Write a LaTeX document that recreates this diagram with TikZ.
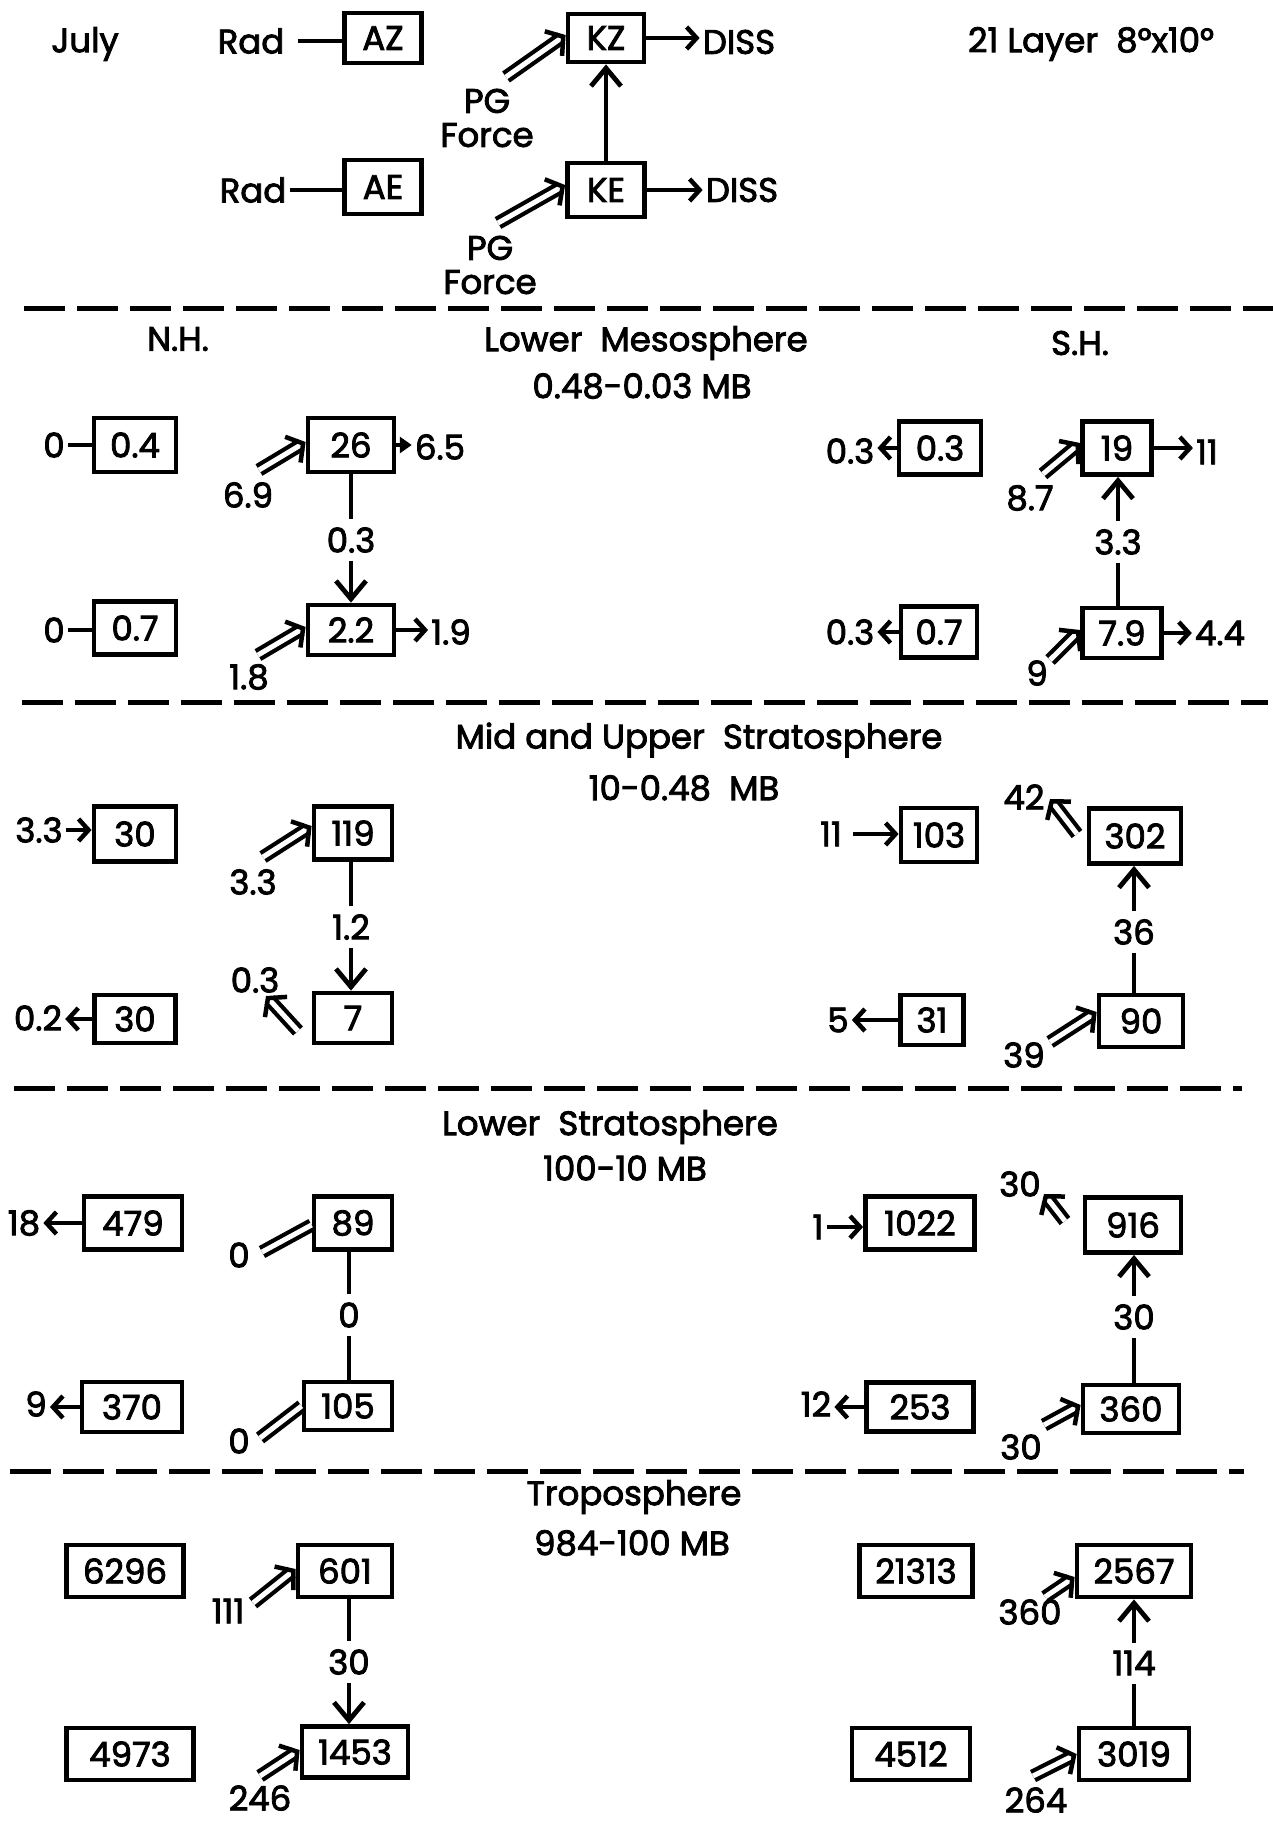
\documentclass[tikz,border=0pt]{standalone}
\usepackage{fontspec}
\setmainfont{Poppins}[FakeBold=2.5]
\usetikzlibrary{arrows.meta}
\begin{document}
\begin{tikzpicture}[x=1pt,y=-1pt,
  every node/.style={font=\fontsize{34}{40}\selectfont},
  lbl/.style={inner sep=3pt},
  vl/.style={inner sep=8pt},
  box/.style={draw,line width=4.8pt,inner sep=0pt,minimum height=52pt},
  ln/.style={line width=4.8pt},
  harr/.style={line width=4.5pt,-{Straight Barb[length=10pt,width=22pt]}},
  varr/.style={line width=4.8pt,-{Straight Barb[length=18pt,width=30pt]}},
  tarr/.style={line width=4.5pt,-{Triangle[length=12pt,width=16pt]}},
  dbl/.style={double,line width=4.2pt,double distance=5pt,-{Straight Barb[length=12pt,width=30pt,line width=4.5pt]}},
  dblline/.style={double,line width=4.2pt,double distance=5pt},
  sep/.style={line width=5pt,dash pattern=on 41pt off 12pt}
]
\fill[white] (0,0) rectangle (1273,1834);
\useasboundingbox (0,0) rectangle (1273,1834);

% ---------------- top legend ----------------
\node[lbl] (july) at (85,44) {July};
\node[lbl] (radA) at (251,41) {Rad};
\node[box,minimum width=77pt,minimum height=50pt] (AZ) at (383,38) {AZ};
\draw[ln,shorten <=10pt] (radA.east) -- (radA.east -| AZ.west);
\node[lbl] (radB) at (253,190) {Rad};
\node[box,minimum width=77pt,minimum height=54pt] (AE) at (383,187) {AE};
\draw[ln] (radB.east) -- (radB.east -| AE.west);
\node[box,minimum width=76pt,minimum height=48pt] (KZ) at (606,38) {KZ};
\node[box,minimum width=77pt,minimum height=54pt] (KE) at (606,190) {KE};
\draw[varr] (KE.north) -- (KZ.south);
\node[lbl] (dissA) at (739,42) {DISS};
\node[lbl] (dissB) at (742,190) {DISS};
\draw[harr] (KZ.east) -- (KZ.east -| dissA.west);
\draw[harr] (KE.east) -- (KE.east -| dissB.west);
\node[lbl,align=center,font=\fontsize{34}{34}\selectfont] (pgA) at (487,118) {PG\\Force};
\node[lbl,align=center,font=\fontsize{34}{34}\selectfont] (pgB) at (490,265) {PG\\Force};
\coordinate (pgAt) at (506,77);
\coordinate (pgBt) at (498,223);
\draw[dbl] (pgAt) -- ([yshift=3pt]KZ.west);
\draw[dbl] (pgBt) -- ([yshift=5pt]KE.west);
\node[lbl] (layer) at (1091,44) {21 Layer\ \ 8°x10°};

\draw[sep] (24,308) -- (1273,308);

% ---------------- Lower Mesosphere ----------------
\node[lbl] (nh) at (178,339) {N.H.};
\node[lbl] (sh) at (1080,343) {S.H.};
\node[lbl] (t1a) at (646,343) {Lower\ \ Mesosphere};
\node[lbl] (t1b) at (642,386) {0.48-0.03 MB};

\node[lbl] (z1) at (54,445) {0};
\node[box,minimum width=82pt,minimum height=54pt] (b04) at (135,445) {0.4};
\draw[ln] (z1.east) -- (z1.east -| b04.west);
\node[lbl] (z2) at (54,630) {0};
\node[box,minimum width=82pt,minimum height=53pt] (b07) at (135,628) {0.7};
\draw[ln] (z2.east) -- (z2.east -| b07.west);

\node[box,minimum width=86pt,minimum height=54pt] (b26) at (351,445) {26};
\node[lbl] (l69) at (248,495) {6.9};
\coordinate (c69) at (259,470);
\draw[dbl] (c69) -- ([yshift=3pt]b26.west);
\node[lbl] (l65) at (440,447) {6.5};
\draw[tarr] (b26.east) -- (b26.east -| l65.west);
\node[vl] (l03) at (351,540) {0.3};
\node[box,minimum width=86pt,minimum height=50pt] (b22) at (351,630) {2.2};
\draw[ln] (b26.south) -- (l03.north);
\draw[varr] (l03.south) -- (b22.north);
\node[lbl] (l18) at (249,677) {1.8};
\coordinate (c18) at (258,655);
\draw[dbl] (c18) -- ([yshift=3pt]b22.west);
\node[lbl] (l19) at (451,632) {1.9};
\draw[harr] (b22.east) -- (b22.east -| l19.west);

\node[box,minimum width=82pt,minimum height=53pt] (b03s) at (940,448) {0.3};
\node[lbl] (l03s) at (850,451) {0.3};
\draw[harr] (b03s.west) -- (b03s.west -| l03s.east);
\node[box,minimum width=76pt,minimum height=51pt] (b07s) at (939,632) {0.7};
\node[lbl] (l03t) at (850,632) {0.3};
\draw[harr] (b07s.west) -- (b07s.west -| l03t.east);

\node[box,minimum width=69pt,minimum height=53pt] (b19) at (1117,448) {19};
\node[lbl] (l11) at (1207,452) {11};
\draw[harr] (b19.east) -- (b19.east -| l11.west);
\node[lbl] (l87) at (1030,498) {8.7};
\coordinate (c87) at (1043,474);
\draw[dbl] (c87) -- ([yshift=5pt]b19.west);
\node[vl] (l33s) at (1118,542) {3.3};
\node[box,minimum width=79pt,minimum height=50pt] (b79) at (1122,633) {7.9};
\draw[varr] (l33s.north) -- (l33s.north |- b19.south);
\draw[ln] (l33s.south |- b79.north) -- (l33s.south);
\node[lbl] (l44) at (1220,633) {4.4};
\draw[harr] (b79.east) -- (b79.east -| l44.west);
\node[lbl] (l9) at (1037,673) {9};
\coordinate (c9) at (1050,660);
\draw[dbl] (c9) -- ([yshift=3pt]b79.west);

\draw[sep] (22,702) -- (1268,702);

% ---------------- Mid and Upper Stratosphere ----------------
\node[lbl] (t2a) at (699,740) {Mid and Upper\ \ Stratosphere};
\node[lbl] (t2b) at (684,788) {10-0.48\ \ MB};

\node[lbl] (l33a) at (39,830) {3.3};
\node[box,minimum width=82pt,minimum height=55pt] (b30a) at (135,834) {30};
\draw[harr] (l33a.east) -- (l33a.east -| b30a.west);
\node[box,minimum width=78pt,minimum height=53pt] (b119) at (353,833) {119};
\node[lbl] (l33b) at (253,882) {3.3};
\coordinate (c33b) at (263,857);
\draw[dbl] (c33b) -- ([yshift=7pt]b119.west);
\node[vl] (l12) at (351,927) {1.2};
\node[box,minimum width=78pt,minimum height=50pt] (b7) at (353,1018) {7};
\draw[ln] (l12.north |- b119.south) -- (l12.north);
\draw[varr] (l12.south) -- (l12.south |- b7.north);
\node[lbl] (l03c) at (255,980) {0.3};
\coordinate (c03c) at (298,1031);
\coordinate (c03d) at (266,996);
\draw[dbl] (c03c) -- (c03d);
\node[lbl] (l02) at (38,1018) {0.2};
\node[box,minimum width=81pt,minimum height=48pt] (b30b) at (135,1019) {30};
\draw[harr] (b30b.west) -- (b30b.west -| l02.east);

\node[lbl] (l11b) at (831,834) {11};
\node[box,minimum width=76pt,minimum height=54pt] (b103) at (939,835) {103};
\draw[harr,shorten <=8pt] (l11b.east) -- (l11b.east -| b103.west);
\node[box,minimum width=92pt,minimum height=55pt] (b302) at (1135,836) {302};
\node[lbl] (l42) at (1024,797) {42};
\coordinate (c42a) at (1077,834);
\coordinate (c42b) at (1050,799);
\draw[dbl] (c42a) -- (c42b);
\node[vl] (l36) at (1134,932) {36};
\node[box,minimum width=84pt,minimum height=52pt] (b90) at (1141,1021) {90};
\draw[varr] (l36.north) -- (l36.north |- b302.south);
\draw[ln] (l36.south |- b90.north) -- (l36.south);
\node[lbl] (l39) at (1024,1055) {39};
\coordinate (c39) at (1050,1042);
\draw[dbl] (c39) -- ([yshift=9pt]b90.west);
\node[lbl] (l5) at (838,1020) {5};
\node[box,minimum width=63pt,minimum height=50pt] (b31) at (932,1020) {31};
\draw[harr] (b31.west) -- (b31.west -| l5.east);

\draw[sep] (14,1088) -- (1242,1088);

% ---------------- Lower Stratosphere ----------------
\node[lbl] (t3a) at (610,1127) {Lower\ \ Stratosphere};
\node[lbl] (t3b) at (625,1168) {100-10 MB};

\node[lbl] (l18b) at (24,1223) {18};
\node[box,minimum width=98pt,minimum height=53pt] (b479) at (133,1223) {479};
\draw[harr] (b479.west) -- (b479.west -| l18b.east);
\node[box,minimum width=78pt,minimum height=53pt] (b89) at (353,1223) {89};
\node[lbl] (lz1) at (239,1255) {0};
\coordinate (cz1) at (262,1252);
\draw[dblline] (cz1) -- ([yshift=-2pt]b89.west);
\node[vl] (lz2) at (349,1315) {0};
\node[box,minimum width=88pt,minimum height=48pt] (b105) at (348,1406) {105};
\draw[ln] (lz2.north |- b89.south) -- (lz2.north);
\draw[ln] (lz2.south) -- (lz2.south |- b105.north);
\node[lbl] (lz3) at (239,1441) {0};
\coordinate (cz3) at (260,1438);
\draw[dblline] (cz3) -- (b105.west);
\node[lbl] (l9b) at (36,1404) {9};
\node[box,minimum width=100pt,minimum height=50pt] (b370) at (132,1407) {370};
\draw[harr] (b370.west) -- (b370.west -| l9b.east);

\node[lbl] (l1) at (818,1227) {1};
\node[box,minimum width=109pt,minimum height=53pt] (b1022) at (920,1223) {1022};
\draw[harr] (l1.east) -- (l1.east -| b1022.west);
\node[box,minimum width=96pt,minimum height=55pt] (b916) at (1133,1225) {916};
\node[lbl] (l30a) at (1020,1184) {30};
\coordinate (c30a) at (1065,1221);
\coordinate (c30b) at (1044,1194);
\draw[dbl] (c30a) -- (c30b);
\node[vl] (l30m) at (1134,1317) {30};
\node[box,minimum width=96pt,minimum height=48pt] (b360) at (1131,1409) {360};
\draw[varr] (l30m.north) -- (l30m.north |- b916.south);
\draw[ln] (l30m.south |- b360.north) -- (l30m.south);
\node[lbl] (l30c) at (1021,1447) {30};
\coordinate (c30c) at (1044,1425);
\draw[dbl] (c30c) -- ([yshift=4pt]b360.west);
\node[lbl] (l12b) at (816,1404) {12};
\node[box,minimum width=107pt,minimum height=49pt] (b253) at (920,1407) {253};
\draw[harr] (b253.west) -- (b253.west -| l12b.east);

\draw[sep] (10,1471) -- (1244,1471);

% ---------------- Troposphere ----------------
\node[lbl] (t4a) at (634,1497) {Troposphere};
\node[lbl] (t4b) at (632,1543) {984-100 MB};

\node[box,minimum width=117pt,minimum height=52pt] (b6296) at (125,1571) {6296};
\node[box,minimum width=94pt,minimum height=52pt] (b601) at (345,1571) {601};
\node[lbl] (l111) at (228,1611) {111};
\coordinate (c111) at (253,1603);
\draw[dbl] (c111) -- ([yshift=2pt]b601.west);
\node[vl] (l30t) at (349,1662) {30};
\node[box,minimum width=106pt,minimum height=51pt] (b1453) at (355,1752) {1453};
\draw[ln] (l30t.north |- b601.south) -- (l30t.north);
\draw[varr] (l30t.south) -- (l30t.south |- b1453.north);
\node[lbl] (l246) at (260,1798) {246};
\coordinate (c246) at (260,1776);
\draw[dbl] (c246) -- ([yshift=2pt]b1453.west);
\node[box,minimum width=127pt,minimum height=52pt] (b4973) at (130,1754) {4973};

\node[box,minimum width=113pt,minimum height=52pt] (b21313) at (916,1571) {21313};
\node[box,minimum width=114pt,minimum height=52pt] (b2567) at (1134,1571) {2567};
\node[lbl] (l360) at (1030,1612) {360};
\coordinate (c360) at (1045,1597);
\draw[dbl] (c360) -- ([yshift=-6pt]b2567.west);
\node[vl] (l114) at (1134,1663) {114};
\node[box,minimum width=110pt,minimum height=52pt] (b3019) at (1134,1754) {3019};
\draw[varr] (l114.north) -- (l114.north |- b2567.south);
\draw[ln] (l114.south |- b3019.north) -- (l114.south);
\node[lbl] (l264) at (1036,1800) {264};
\coordinate (c264) at (1033,1776);
\draw[dbl] (c264) -- (b3019.west);
\node[box,minimum width=118pt,minimum height=52pt] (b4512) at (911,1754) {4512};
\end{tikzpicture}
\end{document}
